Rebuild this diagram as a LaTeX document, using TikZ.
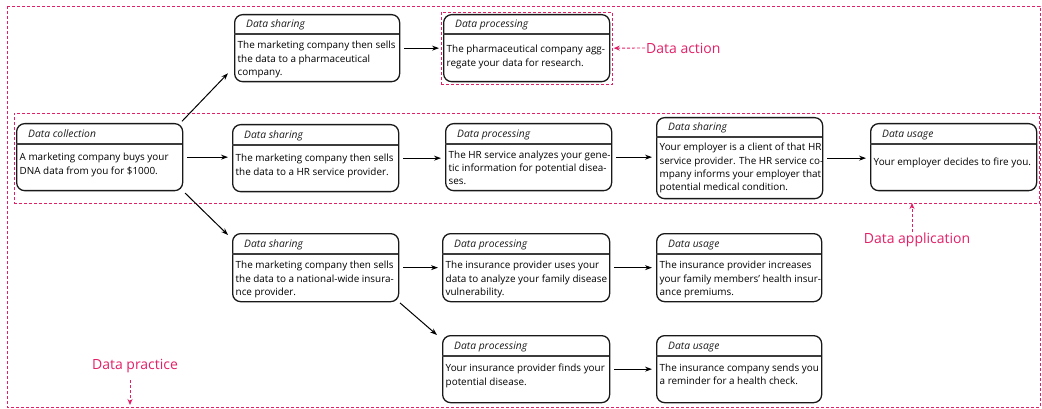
\documentclass[tikz,border=0pt]{standalone}
\usepackage{fontspec}
\setmainfont{Open Sans}
\usetikzlibrary{arrows.meta,fit,calc}
\definecolor{pinkc}{RGB}{226,32,104}
\definecolor{boxc}{RGB}{25,25,25}
\newcommand\stagebox[9]{%
  \node[stage, minimum width={(#4-#2)*1pt}, minimum height={(#5-#3)*1pt}, anchor=north west] (#1) at (#2,#3) {};
  \draw[hdrline] (#2,#6) -- (#4,#6);
  \node[hdrtext, anchor=base west] at ({#2+12},{(#3+#6)/2+4}) {#7};
  \node[bodytext, anchor=north west] at ({#2+3.5},{#6+#9}) {#8};
}
\begin{document}
\begin{tikzpicture}[x=1pt,y=-1pt,
  stage/.style={draw=boxc, line width=1.3pt, rounded corners=8pt, inner sep=0pt},
  hdrline/.style={draw=boxc!85, line width=1.1pt},
  hdrtext/.style={font=\fontsize{10.3}{12}\selectfont\itshape, text=boxc, inner sep=0pt},
  bodytext/.style={font=\fontsize{9.9}{13.3}\selectfont, align=left, inner sep=0pt, text=black},
  flow/.style={-{Stealth[length=7pt,width=5pt]}, line width=1pt, shorten <=4pt, shorten >=4pt},
  region/.style={draw=pinkc, dash pattern=on 3pt off 2pt, line width=0.9pt},
  lab/.style={text=pinkc, font=\fontsize{14}{16}\selectfont, inner sep=1pt},
  pinkarrow/.style={draw=pinkc, dash pattern=on 3pt off 2pt, line width=0.9pt, -{Stealth[length=6pt,width=5pt]}}]
\useasboundingbox (0,0) rectangle (1042,409);

% outer region
\draw[region] (7,6) rectangle (1040,407);

\stagebox{coll}{16}{123}{182}{190}{144}{Data collection}{A marketing company buys your\\DNA data from you for \$1000.}{9}
\stagebox{sh1}{234}{14}{399}{81}{34}{Data sharing}{The marketing company then sells\\the data to a pharmaceutical\\company.}{7}
\stagebox{p1}{443}{14}{609}{81}{34}{Data processing}{The pharmaceutical company agg-\\regate your data for research.}{11}
\stagebox{sh2}{232}{124}{398}{191}{145}{Data sharing}{The marketing company then sells\\the data to a HR service provider.}{9}
\stagebox{p2}{445}{123}{611}{190}{144}{Data processing}{The HR service analyzes your gene-\\tic information for potential disea-\\ses.}{6.5}
\stagebox{sh3}{656}{117}{822}{198}{137}{Data sharing}{Your employer is a client of that HR\\service provider. The HR service co-\\mpany informs your employer that\\potential medical condition.}{6}
\stagebox{u2}{870}{123}{1036}{190}{144}{Data usage}{Your employer decides to fire you.}{14}
\stagebox{sh4}{232}{233}{398}{301}{254}{Data sharing}{The marketing company then sells\\the data to a national-wide insura-\\nce provider.}{7}
\stagebox{p4}{442}{233}{609}{301}{254}{Data processing}{The insurance provider uses your\\data to analyze your family disease\\vulnerability.}{7}
\stagebox{u4}{656}{233}{821}{301}{254}{Data usage}{The insurance provider increases\\your family members’ health insur-\\ance premiums.}{7}
\stagebox{p5}{442}{335}{609}{402}{356}{Data processing}{Your insurance provider finds your\\potential disease.}{8}
\stagebox{u5}{656}{335}{821}{402}{356}{Data usage}{The insurance company sends you\\a reminder for a health check.}{7.5}

% regions
\node[region, fit=(p1), inner sep=2pt] (act) {};
\node[region, fit=(coll)(sh3)(u2), inner xsep=2pt, inner ysep=4pt] (app) {};

% flows
\draw[flow, shorten <=1pt, shorten >=0pt] ([xshift=-2pt,yshift=1pt]coll.north east) -- ([xshift=-6pt,yshift=9pt]sh1.south west);
\draw[flow] (coll.east) -- (coll.east -| sh2.west);
\draw[flow, shorten <=1pt, shorten >=0pt] ([xshift=1pt,yshift=-1pt]coll.south east) -- ([xshift=-4pt,yshift=-2pt]sh4.north west);
\draw[flow] (sh1.east) -- (sh1.east -| p1.west);
\draw[flow] (sh2.east) -- (sh2.east -| p2.west);
\draw[flow] (p2.east) -- (p2.east -| sh3.west);
\draw[flow] (sh3.east) -- (sh3.east -| u2.west);
\draw[flow] (sh4.east) -- (sh4.east -| p4.west);
\draw[flow] (p4.east) -- (p4.east -| u4.west);
\draw[flow, shorten <=1pt, shorten >=0pt] (sh4.south east) -- ([xshift=-5pt]p5.north west);
\draw[flow] (p5.east) -- (p5.east -| u5.west);

% labels
\node[lab, anchor=west] (lact) at (645,48) {Data action};
\draw[pinkarrow, shorten >=1pt] (lact.west) -- (act.east);
\node[lab] (lapp) at (917,240) {Data application};
\coordinate (appt) at (912,203);
\draw[pinkarrow] (lapp.north -| appt) -- (appt);
\node[lab] (lprac) at (135,366) {Data practice};
\coordinate (pract) at (130,405);
\draw[pinkarrow] (lprac.south -| pract) ++(0,6) -- (pract);
\end{tikzpicture}
\end{document}
